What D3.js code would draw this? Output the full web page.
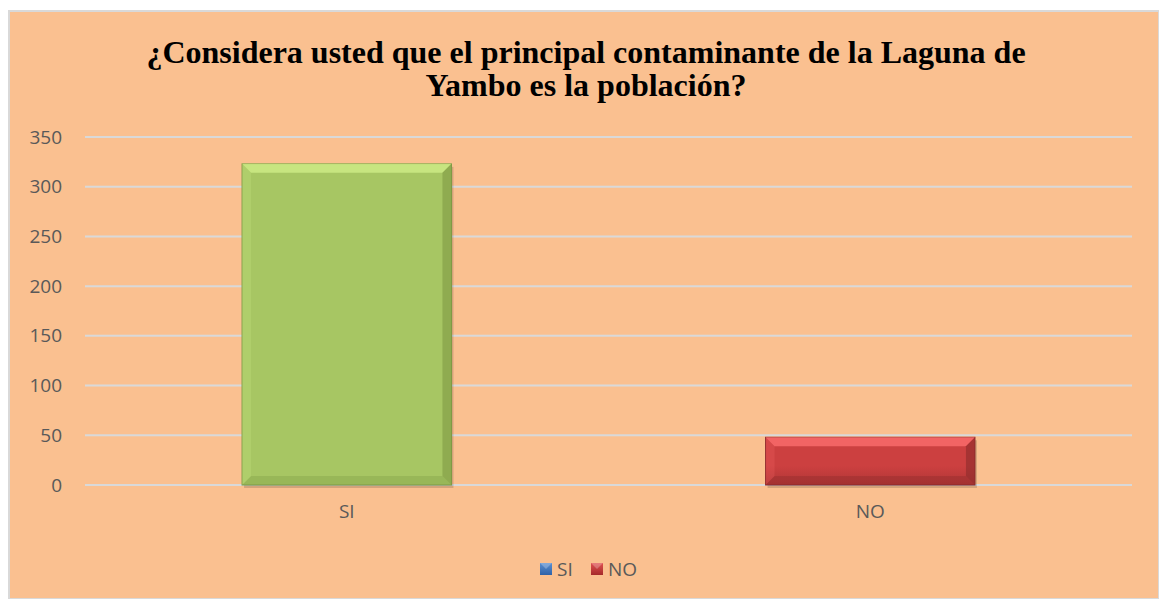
<!DOCTYPE html>
<html>
<head>
<meta charset="utf-8">
<title>Laguna de Yambo</title>
<style>
  body { margin: 0; background: #fff; }
  svg text { font-family: "Open Sans", "Liberation Sans", sans-serif; }
</style>
</head>
<body>
<div id="chart"></div>
<script src="https://cdn.jsdelivr.net/npm/d3@7"></script>
<script>
var categories = ["SI", "NO"];
var values = [323, 48];
var yTicks = [0, 50, 100, 150, 200, 250, 300, 350];
var titleLines = ["¿Considera usted que el principal contaminante de la Laguna de", "Yambo es la población?"];
var legendNames = ["SI", "NO"];
var barColors = { SI: ["#d2ef8a", "#a7c663", "#7f9a45"], NO: ["#ff7070", "#cc4040", "#8c2c2c"] };
var legendColors = { SI: ["#5b8fd0", "#2f62a8"], NO: ["#e05050", "#a52a2a"] };

var W = 1159, H = 599;
var margin = { top: 137, right: 27, bottom: 114, left: 85 };
var width = W - margin.left - margin.right,
    height = H - margin.top - margin.bottom;

var svg = d3.select("#chart").append("svg")
  .attr("width", W).attr("height", H);

var defs = svg.append("defs");
categories.forEach(function(c) {
  var g = defs.append("linearGradient").attr("id", "grad" + c)
    .attr("x1", 0).attr("y1", 0).attr("x2", 0).attr("y2", 1);
  g.append("stop").attr("offset", "0%").attr("stop-color", barColors[c][1]);
  g.append("stop").attr("offset", "60%").attr("stop-color", barColors[c][1]);
  g.append("stop").attr("offset", "100%").attr("stop-color", c == "NO" ? "#b03636" : barColors[c][1]);
  var lg = defs.append("linearGradient").attr("id", "lg" + c)
    .attr("x1", 0).attr("y1", 0).attr("x2", 0).attr("y2", 1);
  lg.append("stop").attr("offset", "0%").attr("stop-color", legendColors[c][0]);
  lg.append("stop").attr("offset", "100%").attr("stop-color", legendColors[c][1]);
});

// chart area
svg.append("rect")
  .attr("x", 9).attr("y", 11).attr("width", W - 9).attr("height", H - 11)
  .attr("fill", "#fac090")
  .attr("stroke", "#d9d9d9").attr("stroke-width", 2);

var g = svg.append("g")
  .attr("transform", "translate(" + margin.left + "," + margin.top + ")");

var x = d3.scaleBand().domain(categories).range([0, width]).paddingInner(0.6).paddingOuter(0.3);
var y = d3.scaleLinear().domain([0, 350]).range([348, 0]);

// gridlines
g.selectAll(".grid").data(yTicks).enter().append("line")
  .attr("x1", 0).attr("x2", width)
  .attr("y1", function(d) { return y(d); })
  .attr("y2", function(d) { return y(d); })
  .attr("stroke", "#d9d9d9").attr("stroke-width", 2);

var yAxis = d3.axisLeft(y).tickValues(yTicks).tickSize(0).tickPadding(23);
var gY = g.append("g").call(yAxis);
gY.select(".domain").remove();
gY.selectAll("text").attr("fill", "#595959").style("font-size", "19px");

var xAxis = d3.axisBottom(x).tickSize(0).tickPadding(20);
var gX = g.append("g").attr("transform", "translate(0," + y(0) + ")").call(xAxis);
gX.select(".domain").remove();
gX.selectAll("text").attr("fill", "#595959").style("font-size", "19px");

// bars with bevel
var bw = x.bandwidth(), bev = 9;
var bars = g.selectAll(".bar").data(categories).enter().append("g").attr("class", "bar");
bars.append("rect")
  .attr("x", function(d) { return x(d) + 2; })
  .attr("y", function(d, i) { return y(values[i]) + 3; })
  .attr("width", bw).attr("height", function(d, i) { return y(0) - y(values[i]); })
  .attr("fill", "#000").attr("opacity", 0.15);
bars.append("rect")
  .attr("x", function(d) { return x(d); })
  .attr("y", function(d, i) { return y(values[i]); })
  .attr("width", bw).attr("height", function(d, i) { return y(0) - y(values[i]); })
  .attr("fill", function(d) { return "url(#grad" + d + ")"; })
  .attr("stroke", function(d) { return barColors[d][2]; }).attr("stroke-width", 1);
bars.append("polygon")
  .attr("points", function(d, i) {
    var x0 = x(d), y0 = y(values[i]), x1 = x0 + bw;
    return [[x0, y0], [x1, y0], [x1 - bev, y0 + bev], [x0 + bev, y0 + bev]].join(" ");
  })
  .attr("fill", function(d) { return barColors[d][0]; }).attr("opacity", 0.75);
bars.append("polygon")
  .attr("points", function(d, i) {
    var x0 = x(d), y0 = y(values[i]), x1 = x0 + bw, y1 = y(0);
    return [[x1, y0], [x1, y1], [x1 - bev, y1 - bev], [x1 - bev, y0 + bev]].join(" ");
  })
  .attr("fill", function(d) { return barColors[d][2]; }).attr("opacity", 0.6);
bars.append("polygon")
  .attr("points", function(d, i) {
    var x0 = x(d), y1 = y(0), x1 = x0 + bw;
    return [[x0, y1], [x1, y1], [x1 - bev, y1 - bev], [x0 + bev, y1 - bev]].join(" ");
  })
  .attr("fill", function(d) { return barColors[d][2]; }).attr("opacity", 0.35);
bars.append("polygon")
  .attr("points", function(d, i) {
    var x0 = x(d), y0 = y(values[i]), y1 = y(0);
    return [[x0, y0], [x0 + bev, y0 + bev], [x0 + bev, y1 - bev], [x0, y1]].join(" ");
  })
  .attr("fill", function(d) { return barColors[d][0]; }).attr("opacity", 0.2);

// title
svg.append("text")
  .attr("x", 586).attr("y", 63)
  .attr("text-anchor", "middle")
  .style("font-family", "'Liberation Serif', 'Times New Roman', serif")
  .style("font-weight", "bold").style("font-size", "32px")
  .selectAll("tspan").data(titleLines).enter().append("tspan")
  .attr("x", 586).attr("dy", function(d, i) { return i ? 33 : 0; })
  .text(function(d) { return d; });

// legend
var legend = svg.append("g").attr("transform", "translate(540,569)");
var lx = [0, 51];
legendNames.forEach(function(n, i) {
  legend.append("rect").attr("x", lx[i]).attr("y", -6).attr("width", 12).attr("height", 12)
    .attr("fill", "url(#lg" + n + ")");
  legend.append("polygon")
    .attr("points", [[lx[i], -6], [lx[i] + 12, -6], [lx[i] + 6, 0]].join(" "))
    .attr("fill", "#fff").attr("opacity", 0.25);
  legend.append("text").attr("x", lx[i] + 17).attr("y", 0).attr("dy", "0.35em")
    .attr("fill", "#595959").style("font-size", "19px").text(n);
});
</script>
</body>
</html>
